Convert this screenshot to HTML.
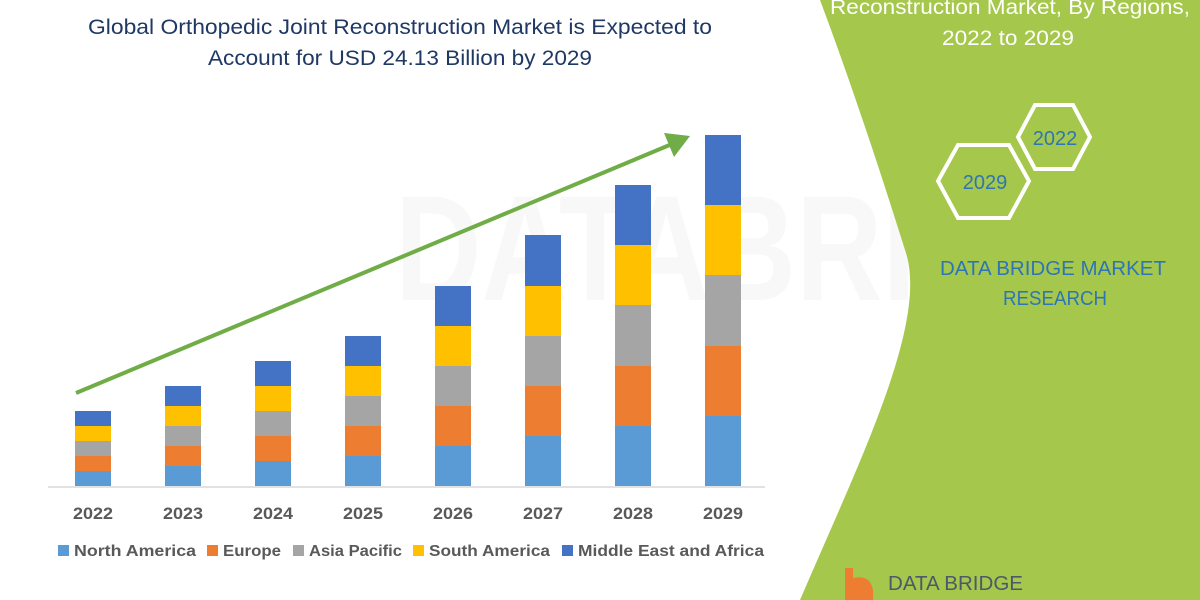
<!DOCTYPE html>
<html><head><meta charset="utf-8"><style>html,body{margin:0;padding:0;background:#fff;width:1200px;height:600px;overflow:hidden}</style></head>
<body>
<svg width="1200" height="600" viewBox="0 0 1200 600" xmlns="http://www.w3.org/2000/svg" font-family="Liberation Sans, sans-serif">
<rect width="1200" height="600" fill="#fff"/>
<g opacity="0.035" fill="#555" font-size="150" font-weight="bold"><text x="395" y="300" textLength="780" lengthAdjust="spacingAndGlyphs">DATABRIDGE</text></g>
<path d="M820,0 L1200,0 L1200,600 L800,600 C860,460 930,320 905,250 C880,170 850,80 820,0 Z" fill="#a5c74b"/>
<text x="1010" y="14" fill="#fff" font-size="21" text-anchor="middle" textLength="360" lengthAdjust="spacingAndGlyphs">Reconstruction Market, By Regions,</text>
<text x="1008" y="45" fill="#fff" font-size="21" text-anchor="middle" textLength="132" lengthAdjust="spacingAndGlyphs">2022 to 2029</text>
<polygon points="1018,137 1035,105 1073,105 1090,137 1073,169 1035,169" fill="none" stroke="#fff" stroke-width="4"/>
<polygon points="938,181 958,145 1009,145 1029,181 1009,218 958,218" fill="none" stroke="#fff" stroke-width="4"/>
<text x="1055" y="145" fill="#2e75b6" font-size="20" text-anchor="middle">2022</text>
<text x="985" y="189" fill="#2e75b6" font-size="20" text-anchor="middle">2029</text>
<text x="1053" y="275" fill="#2e75b6" font-size="20" text-anchor="middle" textLength="226" lengthAdjust="spacingAndGlyphs">DATA BRIDGE MARKET</text>
<text x="1055" y="305" fill="#2e75b6" font-size="20" text-anchor="middle" textLength="104" lengthAdjust="spacingAndGlyphs">RESEARCH</text>
<path d="M845,600 L845,568 L853,568 L853,578 Q870,574 873,590 L873,600 Z" fill="#ed7d31"/>
<text x="888" y="590" fill="#4a5a6a" font-size="20" textLength="135" lengthAdjust="spacingAndGlyphs">DATA BRIDGE</text>
<text x="400" y="34" fill="#1f3864" font-size="21" text-anchor="middle" textLength="624" lengthAdjust="spacingAndGlyphs">Global Orthopedic Joint Reconstruction Market is Expected to</text>
<text x="400" y="65" fill="#1f3864" font-size="21" text-anchor="middle" textLength="384" lengthAdjust="spacingAndGlyphs">Account for USD 24.13 Billion by 2029</text>
<line x1="48" y1="487" x2="765" y2="487" stroke="#d9d9d9" stroke-width="1.5"/>
<g>
<rect x="75" y="471" width="36" height="15" fill="#5b9bd5"/><rect x="75" y="456" width="36" height="15" fill="#ed7d31"/><rect x="75" y="441" width="36" height="15" fill="#a5a5a5"/><rect x="75" y="426" width="36" height="15" fill="#ffc000"/><rect x="75" y="411" width="36" height="15" fill="#4472c4"/>
<rect x="165" y="466" width="36" height="20" fill="#5b9bd5"/><rect x="165" y="446" width="36" height="20" fill="#ed7d31"/><rect x="165" y="426" width="36" height="20" fill="#a5a5a5"/><rect x="165" y="406" width="36" height="20" fill="#ffc000"/><rect x="165" y="386" width="36" height="20" fill="#4472c4"/>
<rect x="255" y="461" width="36" height="25" fill="#5b9bd5"/><rect x="255" y="436" width="36" height="25" fill="#ed7d31"/><rect x="255" y="411" width="36" height="25" fill="#a5a5a5"/><rect x="255" y="386" width="36" height="25" fill="#ffc000"/><rect x="255" y="361" width="36" height="25" fill="#4472c4"/>
<rect x="345" y="456" width="36" height="30" fill="#5b9bd5"/><rect x="345" y="426" width="36" height="30" fill="#ed7d31"/><rect x="345" y="396" width="36" height="30" fill="#a5a5a5"/><rect x="345" y="366" width="36" height="30" fill="#ffc000"/><rect x="345" y="336" width="36" height="30" fill="#4472c4"/>
<rect x="435" y="446" width="36" height="40" fill="#5b9bd5"/><rect x="435" y="406" width="36" height="40" fill="#ed7d31"/><rect x="435" y="366" width="36" height="40" fill="#a5a5a5"/><rect x="435" y="326" width="36" height="40" fill="#ffc000"/><rect x="435" y="286" width="36" height="40" fill="#4472c4"/>
<rect x="525" y="436" width="36" height="50" fill="#5b9bd5"/><rect x="525" y="386" width="36" height="50" fill="#ed7d31"/><rect x="525" y="336" width="36" height="50" fill="#a5a5a5"/><rect x="525" y="286" width="36" height="50" fill="#ffc000"/><rect x="525" y="235" width="36" height="51" fill="#4472c4"/>
<rect x="615" y="426" width="36" height="60" fill="#5b9bd5"/><rect x="615" y="366" width="36" height="60" fill="#ed7d31"/><rect x="615" y="305" width="36" height="61" fill="#a5a5a5"/><rect x="615" y="245" width="36" height="60" fill="#ffc000"/><rect x="615" y="185" width="36" height="60" fill="#4472c4"/>
<rect x="705" y="416" width="36" height="70" fill="#5b9bd5"/><rect x="705" y="346" width="36" height="70" fill="#ed7d31"/><rect x="705" y="275" width="36" height="71" fill="#a5a5a5"/><rect x="705" y="205" width="36" height="70" fill="#ffc000"/><rect x="705" y="135" width="36" height="70" fill="#4472c4"/>
</g>
<line x1="76" y1="393" x2="672" y2="144" stroke="#70ad47" stroke-width="4"/>
<polygon points="690,136 664,133 674,157" fill="#70ad47"/>
<g fill="#595959" font-size="17" font-weight="bold" text-anchor="middle">
<text x="93" y="519" textLength="40" lengthAdjust="spacingAndGlyphs">2022</text><text x="183" y="519" textLength="40" lengthAdjust="spacingAndGlyphs">2023</text><text x="273" y="519" textLength="40" lengthAdjust="spacingAndGlyphs">2024</text><text x="363" y="519" textLength="40" lengthAdjust="spacingAndGlyphs">2025</text><text x="453" y="519" textLength="40" lengthAdjust="spacingAndGlyphs">2026</text><text x="543" y="519" textLength="40" lengthAdjust="spacingAndGlyphs">2027</text><text x="633" y="519" textLength="40" lengthAdjust="spacingAndGlyphs">2028</text><text x="723" y="519" textLength="40" lengthAdjust="spacingAndGlyphs">2029</text>
</g>
<g font-size="16" font-weight="bold" fill="#595959">
<rect x="58" y="545" width="11" height="11" fill="#5b9bd5"/><text x="74" y="556" textLength="122" lengthAdjust="spacingAndGlyphs">North America</text>
<rect x="207" y="545" width="11" height="11" fill="#ed7d31"/><text x="223" y="556" textLength="58" lengthAdjust="spacingAndGlyphs">Europe</text>
<rect x="293" y="545" width="11" height="11" fill="#a5a5a5"/><text x="309" y="556" textLength="93" lengthAdjust="spacingAndGlyphs">Asia Pacific</text>
<rect x="413" y="545" width="11" height="11" fill="#ffc000"/><text x="429" y="556" textLength="121" lengthAdjust="spacingAndGlyphs">South America</text>
<rect x="562" y="545" width="11" height="11" fill="#4472c4"/><text x="578" y="556" textLength="186" lengthAdjust="spacingAndGlyphs">Middle East and Africa</text>
</g>
</svg>
</body></html>
